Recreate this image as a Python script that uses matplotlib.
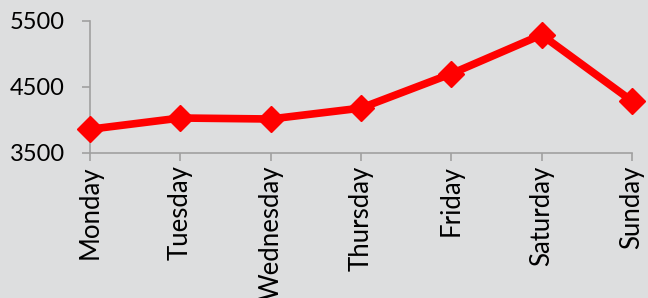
import matplotlib
matplotlib.use("Agg")
import matplotlib.pyplot as plt

days = ["Monday", "Tuesday", "Wednesday", "Thursday", "Friday", "Saturday", "Sunday"]
values = [3860, 4030, 4015, 4180, 4700, 5290, 4290]
yticks = [3500, 4500, 5500]

plt.rcParams['font.family'] = ['Lato', 'DejaVu Sans']
bg = '#dddedf'
fig = plt.figure(figsize=(6.48, 2.98), dpi=100, facecolor=bg)
ax = fig.add_axes([0.139, 0.4866, 0.836, 0.443])
ax.set_facecolor(bg)
x = list(range(len(days)))
ax.plot(x, values, color='#ff0000', lw=5.5, marker='D', markersize=13,
        clip_on=False, zorder=3)
ax.set_xlim(0, len(days) - 1)
ax.set_ylim(3500, 5500)
ax.set_yticks(yticks)
ax.set_yticklabels([str(v) for v in yticks], fontsize=17)
ax.set_xticks(x)
ax.set_xticklabels(days, rotation=90, fontsize=18.5)
for s in ['top', 'right']:
    ax.spines[s].set_visible(False)
for s in ['left', 'bottom']:
    ax.spines[s].set_color('#a0a0a0')
    ax.spines[s].set_linewidth(1.2)
ax.tick_params(axis='both', color='#a0a0a0', width=1.2, length=6)
ax.tick_params(axis='y', pad=12)
ax.tick_params(axis='x', pad=3)
fig.savefig('out.png', dpi=100, facecolor=bg)
